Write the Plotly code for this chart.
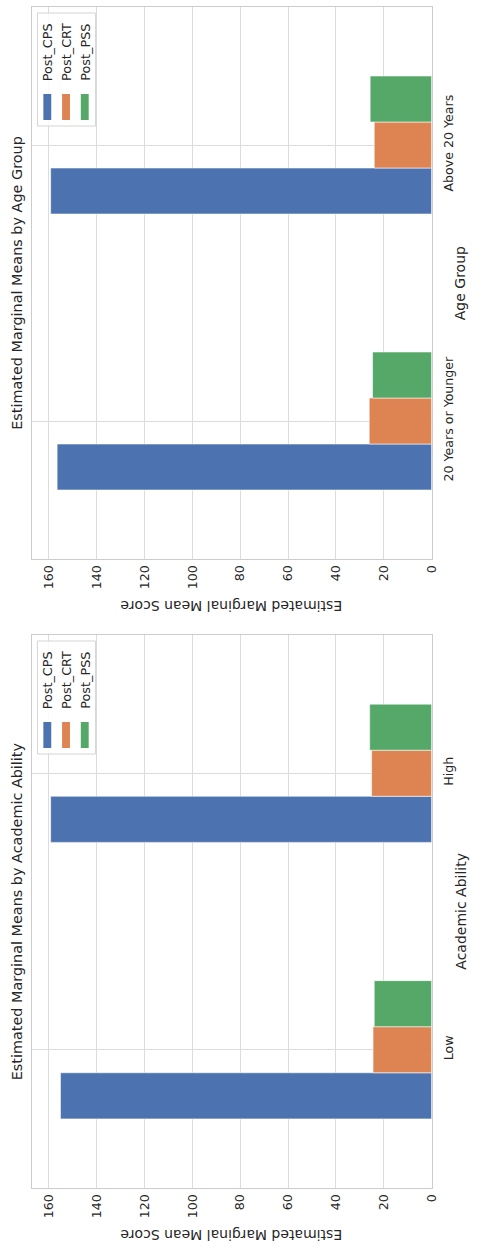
import plotly.graph_objects as go

# ---------------- data ----------------
series = ["Post_CPS", "Post_CRT", "Post_PSS"]
colors = ["#4C72B0", "#DD8452", "#55A868"]

age_groups = ["20 Years or Younger", "Above 20 Years"]
age_cps = [156.6, 159.3]
age_crt = [26.1, 24.0]
age_pss = [24.7, 25.7]

ability_groups = ["Low", "High"]
abil_cps = [155.2, 159.3]
abil_crt = [24.5, 25.1]
abil_pss = [24.0, 25.9]

value_ticks = [0, 20, 40, 60, 80, 100, 120, 140, 160]

# ---------------- layout helpers ----------------
W, H = 481, 1255
FONT = "DejaVu Sans"
TXT = "#262626"


def px(x):
    return x / W


def py(y):
    return 1 - y / H


X0, X1 = 32, 438
panels = [
    dict(top=7, bot=559, cats=age_groups, vals=[age_cps, age_crt, age_pss],
         title="Estimated Marginal Means by Age Group", cat_title="Age Group",
         xa="x", ya="y"),
    dict(top=635, bot=1188, cats=ability_groups, vals=[abil_cps, abil_crt, abil_pss],
         title="Estimated Marginal Means by Academic Ability", cat_title="Academic Ability",
         xa="x2", ya="y2"),
]

fig = go.Figure()
annotations = []
shapes = []

for i, p in enumerate(panels):
    for s, c, v in zip(series, colors, p["vals"]):
        fig.add_trace(go.Bar(
            y=p["cats"], x=v, name=s, orientation="h",
            marker=dict(color=c, line=dict(color="rgba(255,255,255,0.7)", width=0.8)),
            xaxis=p["xa"], yaxis=p["ya"], showlegend=False,
        ))
    xkey = "xaxis" if i == 0 else "xaxis2"
    ykey = "yaxis" if i == 0 else "yaxis2"
    fig.layout[xkey] = dict(
        domain=[px(X0), px(X1)], anchor=p["ya"], range=[167.3, 0],
        tickvals=value_ticks, tickangle=-90, ticks="",
        tickfont=dict(family=FONT, size=12.6, color=TXT),
        showgrid=True, gridcolor="#dcdcdc", gridwidth=1, zeroline=False,
        showline=True, mirror=True, linecolor="#cccccc", linewidth=1.25,
    )
    fig.layout[ykey] = dict(
        domain=[py(p["bot"]), py(p["top"])], anchor=p["xa"], side="right",
        type="category", categoryorder="array", categoryarray=p["cats"],
        range=[-0.5, 1.5], tickangle=-90, ticks="outside", ticklen=5,
        tickcolor="rgba(0,0,0,0)",
        tickfont=dict(family=FONT, size=12.6, color=TXT),
        showgrid=True, gridcolor="#dcdcdc", gridwidth=1, zeroline=False,
        showline=True, mirror=True, linecolor="#cccccc", linewidth=1.25,
    )
    mid = (p["top"] + p["bot"]) / 2
    # title
    annotations.append(dict(text=p["title"], x=px(17), y=py(mid), xref="paper", yref="paper",
                            textangle=-90, showarrow=False, xanchor="center", yanchor="middle",
                            font=dict(family=FONT, size=14.4, color=TXT)))
    # value axis title (upside down)
    annotations.append(dict(text="Estimated Marginal Mean Score", x=px((X0 + X1) / 2),
                            y=py(p["bot"] + 47), xref="paper", yref="paper",
                            textangle=180, showarrow=False, xanchor="center", yanchor="middle",
                            font=dict(family=FONT, size=14, color=TXT)))
    # category axis title
    annotations.append(dict(text=p["cat_title"], x=px(467), y=py(mid), xref="paper", yref="paper",
                            textangle=-90, showarrow=False, xanchor="center", yanchor="middle",
                            font=dict(family=FONT, size=14, color=TXT)))
    # legend box
    t = p["top"]
    shapes.append(dict(type="rect", xref="paper", yref="paper",
                       x0=px(38), x1=px(97), y0=py(t + 119), y1=py(t + 6),
                       fillcolor="rgba(255,255,255,0.85)", line=dict(color="#d5d5d5", width=1)))
    for k, (s, c) in enumerate(zip(series, colors)):
        cx = 48 + 19 * k
        shapes.append(dict(type="rect", xref="paper", yref="paper",
                           x0=px(cx - 4), x1=px(cx + 4), y0=py(t + 113), y1=py(t + 87),
                           fillcolor=c, line=dict(width=0)))
        annotations.append(dict(text=s, x=px(cx), y=py(t + 45), xref="paper", yref="paper",
                                textangle=-90, showarrow=False, xanchor="center", yanchor="middle",
                                font=dict(family=FONT, size=12.8, color=TXT)))

fig.update_layout(
    width=W, height=H, margin=dict(l=0, r=0, t=0, b=0),
    paper_bgcolor="white", plot_bgcolor="white",
    barmode="group", bargap=0.5, bargroupgap=0,
    annotations=annotations, shapes=shapes, showlegend=False,
)

fig.write_html(
    "out.html",
    config={"displayModeBar": False},
    post_script="document.body.style.margin='0';document.body.style.overflow='hidden';",
)
